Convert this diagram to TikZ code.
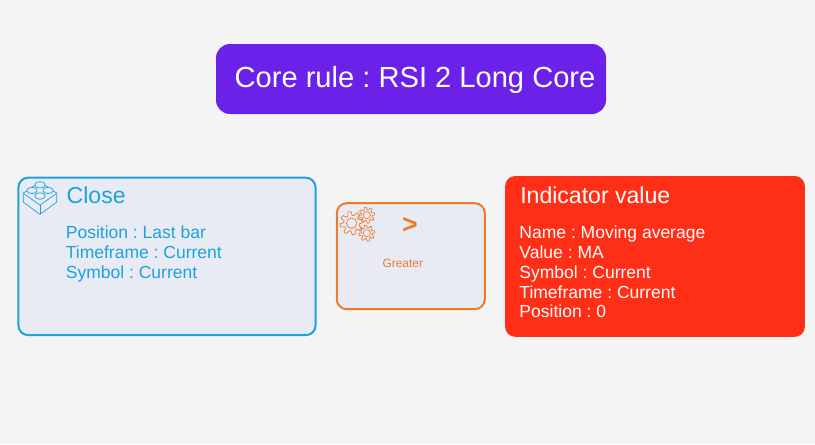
\documentclass[tikz,border=0pt]{standalone}
\usepackage{fontspec}
\setmainfont{Liberation Sans}
\usepackage{xcolor}
\definecolor{pagebg}{HTML}{F4F4F4}
\definecolor{boxbg}{HTML}{E8EAF4}
\definecolor{corepurple}{HTML}{6B21E8}
\definecolor{closeblue}{HTML}{1CA3DC}
\definecolor{opgreater}{HTML}{EE7B2D}
\definecolor{indred}{HTML}{FF2E17}
\newcommand{\gearicon}[3]{%
\draw[opgreater,line width=0.5pt,line join=round,shift={(#1,#2)},scale=#3]
  plot[samples=97,domain=0:360] (\x:{0.84+0.16*max(min(2.5*sin(8*\x),1),-1)}) -- cycle;
\draw[opgreater,line width=0.5pt,shift={(#1,#2)},scale=#3] (0,0) circle (0.45);
}
\tikzset{
  rulebox/.style={rounded corners=0.25cm,line width=0.05cm},
  boxtitle/.style={anchor=west,inner sep=0pt,font=\fontsize{16.4}{19}\selectfont},
  boxlines/.style={anchor=north west,inner sep=0pt,align=left,font=\fontsize{12.45}{14}\selectfont},
}
\begin{document}
\frenchspacing
\begin{tikzpicture}[x=1cm,y=1cm]
\useasboundingbox (0,0) rectangle (20.375,-11.1);
\fill[pagebg] (0,0) rectangle (20.375,-11.1);
% core rule
\fill[corepurple,rounded corners=0.35cm] (5.4,-1.1) rectangle (15.15,-2.85);
\node[anchor=west,inner sep=0pt,text=white,font=\fontsize{20.7}{24}\selectfont] (corerule) at (5.86,-1.99) {Core rule : RSI 2 Long Core};
% close
\draw[rulebox,closeblue,fill=boxbg] (0.46,-4.44) rectangle (7.89,-8.38);
\begin{scope}[closeblue,line width=0.5pt,line join=round]
\draw (0.58,-4.83) -- (1,-4.55) -- (1.42,-4.83) -- (1,-5.13) -- cycle;
\draw (0.58,-4.83) -- (0.58,-5.05) -- (1,-5.36) -- (1.42,-5.05) -- (1.42,-4.83);
\draw (1,-5.13) -- (1,-5.36);
\foreach \x/\y in {1/-4.62,0.8/-4.76,1.2/-4.76,1/-4.9}
  \draw[fill=boxbg] (\x,\y) ellipse (0.13 and 0.08);
\end{scope}
\node[boxtitle,text=closeblue] (closetitle) at (1.66,-4.89) {Close};
\node[boxlines,text=closeblue] (closetext) at (1.64,-5.65) {Position : Last bar\\Timeframe : Current\\Symbol : Current};
% greater
\draw[rulebox,opgreater,fill=boxbg] (8.42,-5.08) rectangle (12.12,-7.73);
\gearicon{8.79}{-5.58}{0.29}
\gearicon{9.17}{-5.38}{0.2}
\gearicon{9.17}{-5.83}{0.2}
\node[inner sep=0pt,text=opgreater,font=\fontsize{19}{22}\bfseries\selectfont] (optitle) at (10.25,-5.64) {>};
\node[inner sep=0pt,text=opgreater,font=\fontsize{8.5}{10}\selectfont] (optext) at (10.07,-6.58) {Greater};
% indicator
\fill[indred,rounded corners=0.25cm] (12.63,-4.4) rectangle (20.12,-8.42);
\node[boxtitle,text=white] (indtitle) at (13,-4.89) {Indicator value};
\node[boxlines,text=white] (indtext) at (12.98,-5.65) {Name : Moving average\\Value : MA\\Symbol : Current\\Timeframe : Current\\Position : 0};
\end{tikzpicture}
\end{document}
